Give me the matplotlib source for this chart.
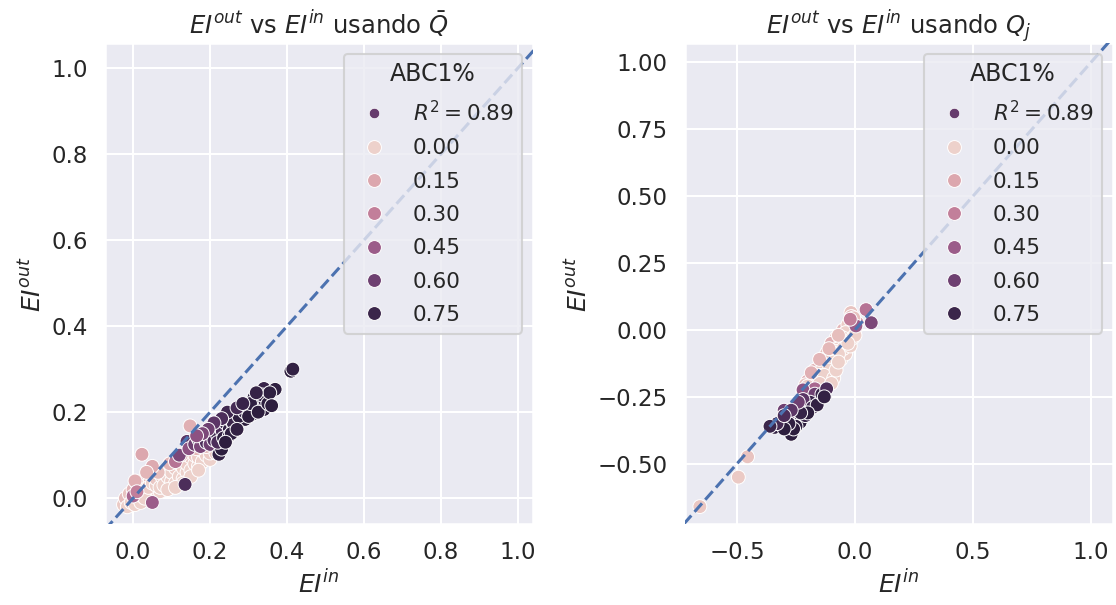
import matplotlib
matplotlib.use("Agg")
import matplotlib.pyplot as plt
import seaborn as sns
import numpy as np
from matplotlib.lines import Line2D
from matplotlib.colors import Normalize

sns.set_theme(context="talk", style="darkgrid")
plt.rcParams['font.family'] = ['DejaVu Sans']

# ---------------- data: left panel (usando Q-bar) ----------------
left_x = [-0.025, -0.02, -0.015, -0.01, -0.005, 0.0, 0.005, 0.005, 0.01, 0.015,
          0.015, 0.02, 0.025, 0.025, 0.03, 0.035, 0.035, 0.04, 0.045, 0.045,
          0.05, 0.055, 0.055, 0.06, 0.065, 0.07, 0.07, 0.075, 0.08, 0.085,
          0.085, 0.09, 0.095, 0.1, 0.1, 0.105, 0.11, 0.115, 0.12, 0.12,
          0.125, 0.13, 0.135, 0.14, 0.145, 0.15, 0.155, 0.16, 0.165, 0.17,
          0.175, 0.18, 0.185, 0.19, 0.195, 0.2, 0.205, 0.21,
          0.01, 0.02, 0.03, 0.04, 0.05, 0.06, 0.06, 0.07, 0.075, 0.08,
          0.09, 0.09, 0.1, 0.1, 0.11, 0.11, 0.12, 0.12, 0.13, 0.13,
          0.14, 0.14, 0.15, 0.15, 0.16, 0.16, 0.17, 0.17, 0.18, 0.18,
          0.19, 0.2, 0.2, 0.21, 0.215, 0.19, 0.165, 0.125, 0.095, 0.065,
          0.13, 0.15, 0.17, 0.09, 0.11,
          0.023, 0.05, 0.005, 0.148, 0.035,
          0.0, 0.01, 0.05, 0.11,
          0.12, 0.135, 0.14, 0.145, 0.16, 0.17, 0.175, 0.185, 0.19, 0.197,
          0.2, 0.205, 0.21, 0.215, 0.22, 0.223, 0.225, 0.23, 0.232, 0.24,
          0.244, 0.25, 0.255, 0.262, 0.265, 0.27, 0.28, 0.285, 0.291, 0.3,
          0.31, 0.314, 0.32, 0.33, 0.34, 0.343, 0.34, 0.369, 0.41, 0.415,
          0.22, 0.235, 0.25, 0.26, 0.275, 0.29, 0.3, 0.305, 0.325, 0.335,
          0.35, 0.355, 0.36, 0.245, 0.23, 0.21, 0.195, 0.18, 0.165, 0.27,
          0.285, 0.32, 0.255, 0.24, 0.27]
left_y = [-0.015, 0.0, -0.02, 0.01, -0.01, 0.02, -0.015, 0.005, 0.035, 0.0,
          0.015, -0.01, 0.025, 0.005, 0.045, 0.015, 0.03, 0.0, 0.02, 0.04,
          0.01, 0.03, 0.05, 0.02, 0.04, 0.015, 0.06, 0.03, 0.045, 0.025,
          0.065, 0.04, 0.055, 0.03, 0.07, 0.045, 0.06, 0.08, 0.04, 0.065,
          0.09, 0.055, 0.075, 0.095, 0.065, 0.085, 0.1, 0.07, 0.09, 0.105,
          0.08, 0.1, 0.09, 0.11, 0.095, 0.115, 0.1, 0.11,
          0.01, 0.02, 0.0, 0.025, 0.035, 0.03, 0.045, 0.025, 0.05, 0.03,
          0.05, 0.07, 0.04, 0.06, 0.035, 0.07, 0.05, 0.08, 0.045, 0.07,
          0.06, 0.08, 0.065, 0.095, 0.08, 0.1, 0.075, 0.095, 0.085, 0.11,
          0.1, 0.09, 0.105, 0.12, 0.105, 0.12, 0.115, 0.1, 0.08, 0.06,
          0.035, 0.05, 0.065, 0.02, 0.025,
          0.102, 0.074, 0.04, 0.168, 0.06,
          0.005, 0.015, -0.01, 0.085,
          0.1, 0.032, 0.132, 0.115, 0.125, 0.137, 0.12, 0.14, 0.13, 0.144,
          0.125, 0.15, 0.135, 0.16, 0.145, 0.102, 0.17, 0.114, 0.155, 0.175,
          0.186, 0.16, 0.18, 0.163, 0.195, 0.175, 0.2, 0.185, 0.183, 0.21,
          0.195, 0.234, 0.215, 0.225, 0.206, 0.225, 0.255, 0.253, 0.295, 0.3,
          0.13, 0.14, 0.145, 0.175, 0.19, 0.2, 0.19, 0.22, 0.2, 0.24,
          0.22, 0.245, 0.215, 0.2, 0.185, 0.175, 0.16, 0.15, 0.145, 0.21,
          0.22, 0.245, 0.15, 0.13, 0.16]
left_h = [0.03, 0.08, 0.0, 0.05, 0.01, 0.1, 0.0, 0.02, 0.12, 0.0,
          0.04, 0.0, 0.06, 0.01, 0.13, 0.0, 0.03, 0.0, 0.01, 0.07,
          0.0, 0.02, 0.09, 0.0, 0.03, 0.0, 0.11, 0.01, 0.02, 0.0,
          0.08, 0.01, 0.03, 0.0, 0.06, 0.0, 0.02, 0.1, 0.0, 0.01,
          0.05, 0.0, 0.02, 0.12, 0.0, 0.03, 0.07, 0.0, 0.01, 0.04,
          0.0, 0.02, 0.01, 0.05, 0.0, 0.06, 0.02, 0.08,
          0.0, 0.01, 0.0, 0.02, 0.0, 0.01, 0.04, 0.0, 0.02, 0.0,
          0.0, 0.05, 0.01, 0.0, 0.0, 0.03, 0.0, 0.02, 0.0, 0.01,
          0.0, 0.02, 0.0, 0.04, 0.01, 0.03, 0.0, 0.02, 0.0, 0.05,
          0.01, 0.0, 0.03, 0.1, 0.04, 0.08, 0.09, 0.11, 0.1, 0.07,
          0.0, 0.0, 0.0, 0.0, 0.0,
          0.15, 0.14, 0.12, 0.12, 0.1,
          0.4, 0.3, 0.45, 0.35,
          0.55, 0.7, 0.65, 0.5, 0.6, 0.72, 0.55, 0.62, 0.7, 0.75,
          0.6, 0.5, 0.68, 0.72, 0.75, 0.78, 0.65, 0.8, 0.7, 0.77,
          0.55, 0.78, 0.72, 0.8, 0.74, 0.78, 0.76, 0.79, 0.8, 0.77,
          0.78, 0.8, 0.75, 0.79, 0.8, 0.78, 0.76, 0.79, 0.8, 0.78,
          0.7, 0.78, 0.8, 0.75, 0.8, 0.77, 0.8, 0.79, 0.8, 0.78,
          0.8, 0.79, 0.8, 0.74, 0.7, 0.65, 0.6, 0.55, 0.5, 0.72,
          0.76, 0.77, 0.79, 0.8, 0.78]

# ---------------- data: right panel (usando Q_j) ----------------
right_x = [-0.017, 0.009, -0.01, -0.02, 0.0, -0.034, -0.03, -0.04, -0.05, -0.045,
           -0.06, -0.055, -0.07, -0.08, -0.075, -0.09, -0.09, -0.1, -0.1, -0.11,
           -0.12, -0.12, -0.13, -0.135, -0.14, -0.15, -0.155, -0.16, -0.17, -0.175,
           -0.18, -0.19, -0.2, -0.21, -0.22, -0.06, -0.08, -0.1, -0.12, -0.14,
           -0.04, -0.02, -0.015,
           -0.03, -0.04, -0.05, -0.06, -0.07, -0.08, -0.09, -0.1, -0.11, -0.12,
           -0.13, -0.14, -0.15, -0.16, -0.17, -0.18, -0.19, -0.2, -0.05, -0.07,
           -0.09, -0.11, -0.13, -0.15, -0.02, -0.01, 0.0, -0.03, -0.015, -0.005,
           -0.07, -0.11, -0.15, -0.185, -0.09, -0.1, -0.08, -0.07,
           -0.455, -0.494, -0.657,
           0.047, 0.069, 0.004, -0.02, -0.17, -0.22,
           -0.155, -0.17, -0.19, -0.206, -0.22, -0.232, -0.24, -0.253, -0.26, -0.27,
           -0.283, -0.29, -0.305, -0.32, -0.34, -0.25, -0.21, -0.18, -0.3,
           -0.16, -0.2, -0.23, -0.26, -0.28, -0.3, -0.33, -0.24, -0.27, -0.3,
           -0.36, -0.14, -0.12, -0.13]
right_y = [0.065, 0.027, 0.03, 0.01, 0.0, -0.068, -0.01, -0.03, 0.0, -0.05,
           -0.02, -0.08, -0.05, -0.03, -0.1, -0.08, -0.06, -0.05, -0.12, -0.09,
           -0.087, -0.14, -0.11, -0.16, -0.12, -0.14, -0.19, -0.16, -0.15, -0.2,
           -0.18, -0.21, -0.19, -0.205, -0.23, -0.11, -0.13, -0.16, -0.18, -0.2,
           -0.09, -0.04, -0.02,
           0.02, -0.01, -0.03, -0.05, -0.07, -0.08, -0.1, -0.1, -0.12, -0.11,
           -0.13, -0.15, -0.17, -0.18, -0.19, -0.2, -0.22, -0.21, -0.07, -0.09,
           -0.12, -0.15, -0.17, -0.2, -0.06, -0.03, -0.02, -0.05, 0.05, 0.045,
           -0.02, -0.07, -0.11, -0.16, -0.18, -0.2, -0.15, -0.12,
           -0.474, -0.55, -0.66,
           0.076, 0.027, 0.015, 0.04, -0.22, -0.224,
           -0.258, -0.24, -0.27, -0.296, -0.26, -0.345, -0.3, -0.288, -0.33, -0.39,
           -0.32, -0.35, -0.334, -0.36, -0.364, -0.36, -0.32, -0.29, -0.3,
           -0.28, -0.31, -0.31, -0.37, -0.35, -0.37, -0.35, -0.27, -0.3, -0.32,
           -0.36, -0.24, -0.22, -0.25]
right_h = [0.05, 0.2, 0.02, 0.0, 0.03, 0.0, 0.04, 0.01, 0.1, 0.0,
           0.05, 0.0, 0.02, 0.08, 0.0, 0.01, 0.04, 0.12, 0.0, 0.02,
           0.06, 0.0, 0.01, 0.0, 0.05, 0.03, 0.0, 0.02, 0.1, 0.01,
           0.04, 0.03, 0.12, 0.06, 0.1, 0.0, 0.0, 0.0, 0.01, 0.0,
           0.0, 0.0, 0.01,
           0.02, 0.0, 0.01, 0.0, 0.02, 0.0, 0.01, 0.03, 0.0, 0.02,
           0.0, 0.01, 0.0, 0.02, 0.0, 0.01, 0.05, 0.02, 0.0, 0.0,
           0.0, 0.0, 0.0, 0.02, 0.0, 0.0, 0.01, 0.0, 0.08, 0.06,
           0.07, 0.09, 0.1, 0.12, 0.0, 0.01, 0.0, 0.0,
           0.05, 0.03, 0.04,
           0.35, 0.55, 0.45, 0.3, 0.4, 0.5,
           0.7, 0.6, 0.75, 0.78, 0.65, 0.8, 0.72, 0.68, 0.77, 0.8,
           0.55, 0.78, 0.75, 0.7, 0.78, 0.79, 0.76, 0.74, 0.6,
           0.78, 0.8, 0.77, 0.8, 0.79, 0.8, 0.72, 0.6, 0.65, 0.7,
           0.75, 0.75, 0.7, 0.78]

legend_levels = [0.00, 0.15, 0.30, 0.45, 0.60, 0.75]
r2_label = r"$R^2 = 0.89$"
legend_title = "ABC1%"
titles = [r"$EI^{out}$ vs $EI^{in}$ usando $\bar{Q}$",
          r"$EI^{out}$ vs $EI^{in}$ usando $Q_j$"]

left_xlim, left_ylim = (-0.073, 1.039), (-0.06, 1.058)
right_xlim, right_ylim = (-0.72, 1.093), (-0.725, 1.072)

cmap = sns.cubehelix_palette(as_cmap=True)
norm = Normalize(0.0, 0.8)

fig = plt.figure(figsize=(11.16, 6.05), dpi=100)
ax1 = fig.add_axes([0.0941, 0.1339, 0.3835, 0.7950])
ax2 = fig.add_axes([0.6138, 0.1339, 0.3835, 0.7950])

panels = [(ax1, left_x, left_y, left_h, left_xlim, left_ylim, titles[0]),
          (ax2, right_x, right_y, right_h, right_xlim, right_ylim, titles[1])]

for ax, xs, ys, hs, xl, yl, ttl in panels:
    sns.scatterplot(x=xs, y=ys, hue=hs, palette=cmap, hue_norm=(0.0, 0.8),
                    legend=False, ax=ax, s=100, edgecolor="white", linewidth=0.7,
                    zorder=2)
    lims = [min(xl[0], yl[0]), max(xl[1], yl[1])]
    ax.plot(lims, lims, ls="--", color="#4C72B0", lw=2.2, zorder=3)
    ax.set_xlim(xl)
    ax.set_ylim(yl)
    ax.set_title(ttl, fontsize=17.5)
    ax.set_xlabel(r"$EI^{in}$", fontsize=18)
    ax.set_ylabel(r"$EI^{out}$", fontsize=18)
    ax.tick_params(labelsize=16.5)

    handles = [Line2D([], [], marker="o", ls="", markersize=7.5,
                      markerfacecolor=cmap(norm(0.62)), markeredgecolor="white",
                      markeredgewidth=0.5)]
    labels = [r2_label]
    for lv in legend_levels:
        handles.append(Line2D([], [], marker="o", ls="", markersize=10,
                              markerfacecolor=cmap(norm(lv)), markeredgecolor="white",
                              markeredgewidth=0.7))
        labels.append(f"{lv:.2f}")
    leg = ax.legend(handles, labels, title=legend_title, loc="upper right",
                    fontsize=15.5, title_fontsize=17, labelspacing=0.62)
    leg.set_zorder(5)

ax1.set_xticks([0.0, 0.2, 0.4, 0.6, 0.8, 1.0])
ax1.set_yticks([0.0, 0.2, 0.4, 0.6, 0.8, 1.0])
ax2.set_xticks([-0.5, 0.0, 0.5, 1.0])
ax2.set_yticks([-0.5, -0.25, 0.0, 0.25, 0.5, 0.75, 1.0])

fig.savefig("out.png", dpi=100)
